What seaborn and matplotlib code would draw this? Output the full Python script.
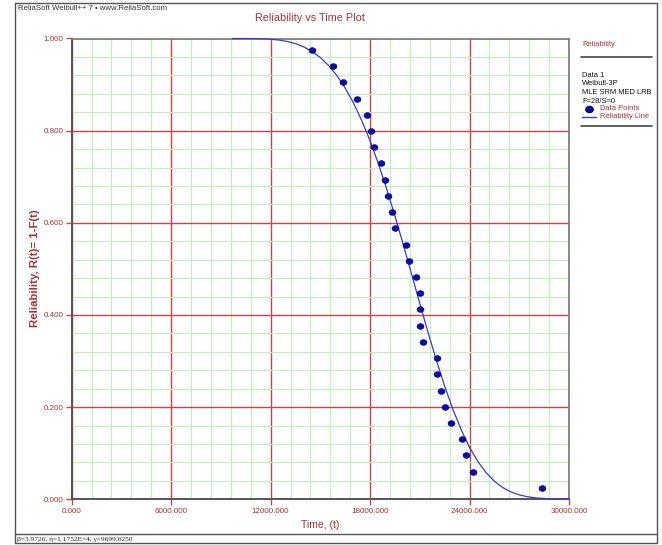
import matplotlib
matplotlib.use("Agg")
import matplotlib.pyplot as plt
from matplotlib.lines import Line2D
from matplotlib.markers import MarkerStyle
from matplotlib.transforms import Affine2D
from matplotlib.ticker import MultipleLocator, FormatStrFormatter
import pandas as pd
import seaborn as sns

t_obs = [14510, 15780, 16390, 17230, 17840, 18080, 18260, 18680, 18920, 19100,
         19350, 19530, 20160, 20370, 20800, 21040, 21040, 21040, 21220, 22060,
         22060, 22250, 22490, 22910, 23570, 23760, 24180, 28350]
r_obs = [0.9754, 0.9401, 0.9049, 0.8697, 0.8345, 0.7993, 0.7641, 0.7289, 0.6937, 0.6585,
         0.6232, 0.5880, 0.5528, 0.5176, 0.4824, 0.4472, 0.4120, 0.3768, 0.3415, 0.3063,
         0.2711, 0.2359, 0.2007, 0.1655, 0.1303, 0.0951, 0.0599, 0.0246]

# reliability line
t_line = [9700, 10000, 10500, 11000, 11500, 12000, 12500, 13000, 13500, 14000,
          14500, 15000, 15500, 16000, 16500, 17000, 17500, 18000, 18500, 19000,
          19500, 20000, 20500, 21000, 21500, 22000, 22500, 23000, 23500, 24000,
          24500, 25000, 25500, 26000, 26500, 27000, 27500, 28000, 29000, 30000]
r_line = [1.0, 1.0, 0.99998, 0.99984, 0.99942, 0.99847, 0.99665, 0.99358, 0.98878, 0.98173,
          0.97186, 0.95860, 0.94129, 0.91940, 0.89242, 0.85996, 0.82177, 0.77780, 0.72836, 0.67384,
          0.61503, 0.55306, 0.48917, 0.42494, 0.36186, 0.30163, 0.24558, 0.19497, 0.15059, 0.11289,
          0.08211, 0.05769, 0.03911, 0.02552, 0.01598, 0.00958, 0.00549, 0.00300, 0.00076, 0.00016]

legend_info = ["Data 1", "Weibull-3P", "MLE SRM MED LRB", "F=28/S=0"]
status_text = "\u03b2=3.9726, \u03b7=1.1752E+4, \u03b3=9699.6250"

sns.set_theme(style="white")
plt.rcParams['font.family'] = ['Liberation Sans', 'DejaVu Sans']

DARKRED = "#a83232"
GRIDRED = "#c84646"
GRIDGREEN = "#c2eec2"
W, H = 662, 545

fig = plt.figure(figsize=(W / 100, H / 100), dpi=100)
ax = fig.add_axes([71.7 / W, 1 - 499.3 / H, (569 - 71.7) / W, (499.3 - 38.5) / H])

df_obs = pd.DataFrame({"t": t_obs, "r": r_obs})
df_line = pd.DataFrame({"t": t_line, "r": r_line})

ell = MarkerStyle("o", transform=Affine2D().scale(1.15, 0.95))
sns.lineplot(data=df_line, x="t", y="r", ax=ax, color="#3a3ad6", linewidth=0.9,
             zorder=4, clip_on=False)
sns.scatterplot(data=df_obs, x="t", y="r", ax=ax, marker=ell, s=19, color="#0a0aa8",
                edgecolor="#000060", linewidth=0.4, zorder=5)

ax.set_xlim(0, 30000)
ax.set_ylim(0, 1)
ax.xaxis.set_major_locator(MultipleLocator(6000))
ax.xaxis.set_minor_locator(MultipleLocator(1200))
ax.yaxis.set_major_locator(MultipleLocator(0.2))
ax.yaxis.set_minor_locator(MultipleLocator(0.04))
ax.xaxis.set_major_formatter(FormatStrFormatter("%.3f"))
ax.yaxis.set_major_formatter(FormatStrFormatter("%.3f"))
ax.grid(which="minor", color=GRIDGREEN, linewidth=0.9)
ax.grid(which="major", color=GRIDRED, linewidth=1.0)
ax.set_axisbelow(True)
ax.tick_params(which="major", length=4, width=1, color=GRIDRED, labelsize=5.8,
               labelcolor=DARKRED, pad=2, left=True, bottom=True)
ax.tick_params(which="minor", length=0)
for side in ["left", "bottom"]:
    ax.spines[side].set_color("#555555")
    ax.spines[side].set_linewidth(1.4)
for side in ["top", "right"]:
    ax.spines[side].set_color("#777777")
    ax.spines[side].set_linewidth(1.2)

ax.set_xlabel("")
ax.set_ylabel("")
fig.text(320 / W, 1 - 525 / H, "Time, (t)", color=DARKRED, fontsize=7.5,
         ha="center", va="center")
fig.text(35 / W, 1 - 268 / H, "Reliability, R(t)= 1-F(t)", color=DARKRED, fontsize=8.2,
         fontweight="bold", rotation=90, ha="center", va="center")
fig.text(310 / W, 1 - 18 / H, "Reliability vs Time Plot", color=DARKRED, fontsize=7.8,
         ha="center", va="center")
fig.text(18 / W, 1 - 8 / H, "ReliaSoft Weibull++ 7 \u2022 www.ReliaSoft.com", color="#333333",
         fontsize=5.6, ha="left", va="center")

# frame and status bar
def hline(y, x0, x1, color="#555555", lw=1.0):
    fig.add_artist(Line2D([x0 / W, x1 / W], [1 - y / H, 1 - y / H], color=color, lw=lw,
                          transform=fig.transFigure))

def vline(x, y0, y1, color="#555555", lw=1.0):
    fig.add_artist(Line2D([x / W, x / W], [1 - y0 / H, 1 - y1 / H], color=color, lw=lw,
                          transform=fig.transFigure))

hline(3, 15, 657)
hline(534, 15, 657)
hline(543, 15, 657)
vline(15, 3, 543)
vline(657, 3, 543)
fig.text(17 / W, 1 - 539 / H, status_text, family=["Liberation Serif", "DejaVu Serif"],
         fontsize=5.3, color="#222222", ha="left", va="center")

# legend panel
fig.text(582 / W, 1 - 44 / H, "Reliability", color=DARKRED, fontsize=5.4, va="center")
hline(57, 581, 652, color="#444444", lw=1.2)
for i, line in enumerate(legend_info):
    fig.text(582 / W, 1 - (75 + 8.7 * i) / H, line, color="#111111", fontsize=5.4, va="center")
fig.add_artist(Line2D([589 / W], [1 - 109 / H], marker=ell, markersize=4.6, color="#0a0aa8",
                      markeredgecolor="#000060", linestyle="none", transform=fig.transFigure))
fig.text(600 / W, 1 - 109 / H, "Data Points", color=DARKRED, fontsize=5.4, va="center")
hline(117, 582, 596, color="#3a3ad6", lw=1.0)
fig.text(600 / W, 1 - 117 / H, "Reliability Line", color=DARKRED, fontsize=5.4, va="center")
hline(126, 581, 652, color="#444444", lw=1.2)

fig.savefig("out.png", dpi=100)
